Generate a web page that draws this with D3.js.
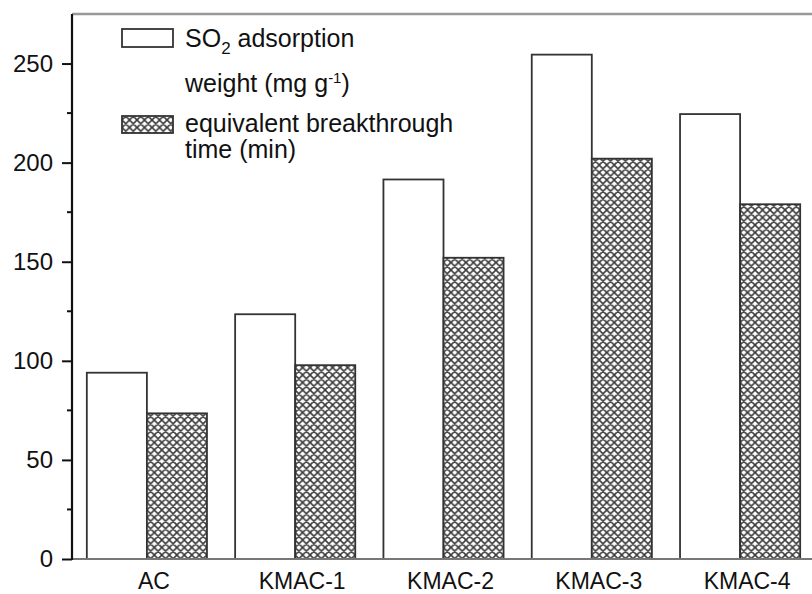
<!DOCTYPE html>
<meta charset="utf-8">
<style>
body { margin: 0; background: #fff; }
svg { font-family: "Liberation Sans", Arial, sans-serif; }
.bar { stroke: #333; stroke-width: 1.8px; }
</style>
<svg width="812" height="594"></svg>
<script src="https://cdn.jsdelivr.net/npm/d3@7"></script>
<script>
// data
var samples = ["AC", "KMAC-1", "KMAC-2", "KMAC-3", "KMAC-4"];
var so2Weight = [94, 123.5, 191.5, 254.5, 224.5];     // mg g-1
var breakthrough = [73.5, 97.8, 152, 202, 179];        // min
var yTicks = [0, 50, 100, 150, 200, 250];
var yMinor = [25, 75, 125, 175, 225];

var svg = d3.select("svg"),
    plot = {left: 72, right: 815, top: 14, bottom: 559};

// hatch pattern for the breakthrough bars
var defs = svg.append("defs");
var pat = defs.append("pattern")
    .attr("id", "hatch")
    .attr("patternUnits", "userSpaceOnUse")
    .attr("width", 7.5)
    .attr("height", 7.5);
pat.append("rect").attr("width", 7.5).attr("height", 7.5).attr("fill", "#fff");
pat.append("path")
    .attr("d", "M0,0L7.5,7.5M7.5,0L0,7.5M-1,6.5L1,8.5M6.5,-1L8.5,1M6.5,8.5L8.5,6.5M-1,1L1,-1")
    .attr("stroke", "#3a3a3a")
    .attr("stroke-width", 1.6);

//scales
var x0 = d3.scaleBand().domain(samples).range([plot.left, plot.right]).paddingInner(0.19).paddingOuter(0.1);
var x1 = d3.scaleBand().domain(["so2", "bt"]).range([0, x0.bandwidth()]);
var y = d3.scaleLinear().domain([0, 275]).range([plot.bottom, plot.top]);

var table = samples.map(function(s, i) {
  return {name: s, so2: so2Weight[i], bt: breakthrough[i]};
});

var groups = svg.selectAll(".grp")
    .data(table)
  .enter().append("g")
    .attr("class", "grp")
    .attr("transform", function(d) { return "translate(" + x0(d.name) + ",0)"; });

groups.append("rect")
    .attr("class", "bar")
    .attr("x", x1("so2"))
    .attr("width", x1.bandwidth())
    .attr("y", function(d) { return y(d.so2); })
    .attr("height", function(d) { return y(0) - y(d.so2); })
    .attr("fill", "#fff");

groups.append("rect")
    .attr("class", "bar")
    .attr("x", x1("bt"))
    .attr("width", x1.bandwidth())
    .attr("y", function(d) { return y(d.bt); })
    .attr("height", function(d) { return y(0) - y(d.bt); })
    .attr("fill", "url(#hatch)");

// frame lines: top (grey) and bottom
svg.append("line")
    .attr("x1", plot.left).attr("x2", 812)
    .attr("y1", y(275)).attr("y2", y(275))
    .attr("stroke", "#999").attr("stroke-width", 2.5);
svg.append("line")
    .attr("x1", plot.left).attr("x2", 812)
    .attr("y1", y(0)).attr("y2", y(0))
    .attr("stroke", "#777").attr("stroke-width", 2);

// y axis
var yAxis = svg.append("g")
    .attr("transform", "translate(" + plot.left + ",0)")
    .call(d3.axisLeft(y).tickValues(yTicks).tickSize(10).tickPadding(9));
yAxis.select(".domain").attr("stroke", "#111").attr("stroke-width", 2.2).attr("d", "M0," + y(275) + "V" + (y(0) + 1));
yAxis.selectAll(".tick line").attr("stroke", "#111").attr("stroke-width", 2);
yAxis.selectAll(".tick text")
    .attr("fill", "#111")
    .style("font-size", "24px")
    .style("font-family", "Liberation Sans, Arial, sans-serif");

svg.append("g")
    .attr("transform", "translate(" + plot.left + ",0)")
    .selectAll("line")
    .data(yMinor)
  .enter().append("line")
    .attr("x1", -5).attr("x2", 0)
    .attr("y1", function(d) { return y(d); })
    .attr("y2", function(d) { return y(d); })
    .attr("stroke", "#111").attr("stroke-width", 2);

// category labels
svg.append("g").selectAll("text")
    .data(samples)
  .enter().append("text")
    .attr("x", function(d) { return x0(d) + x0.bandwidth() / 2 + 7; })
    .attr("y", plot.bottom + 30)
    .attr("text-anchor", "middle")
    .attr("fill", "#111")
    .style("font-size", "23px")
    .text(function(d) { return d; });

//legend
var legend = svg.append("g").attr("transform", "translate(122,0)");
legend.append("rect")
    .attr("class", "bar")
    .attr("x", 0).attr("y", 29)
    .attr("width", 51).attr("height", 18)
    .attr("fill", "#fff");
legend.append("rect")
    .attr("class", "bar")
    .attr("x", 0).attr("y", 116)
    .attr("width", 51).attr("height", 17)
    .attr("fill", "url(#hatch)");

var t1 = legend.append("text").attr("x", 63).attr("y", 47).attr("fill", "#111").style("font-size", "25px");
t1.append("tspan").text("SO");
t1.append("tspan").text("2").attr("dy", 7).style("font-size", "17px");
t1.append("tspan").text(" adsorption").attr("dy", -7);

var t2 = legend.append("text").attr("x", 63).attr("y", 92).attr("fill", "#111").style("font-size", "25px");
t2.append("tspan").text("weight (mg g");
t2.append("tspan").text("-1").attr("dy", -9).style("font-size", "15px");
t2.append("tspan").text(")").attr("dy", 9);

legend.append("text").attr("x", 63).attr("y", 132).attr("fill", "#111").style("font-size", "25px")
    .text("equivalent breakthrough");
legend.append("text").attr("x", 63).attr("y", 158).attr("fill", "#111").style("font-size", "25px")
    .text("time (min)");
</script>
